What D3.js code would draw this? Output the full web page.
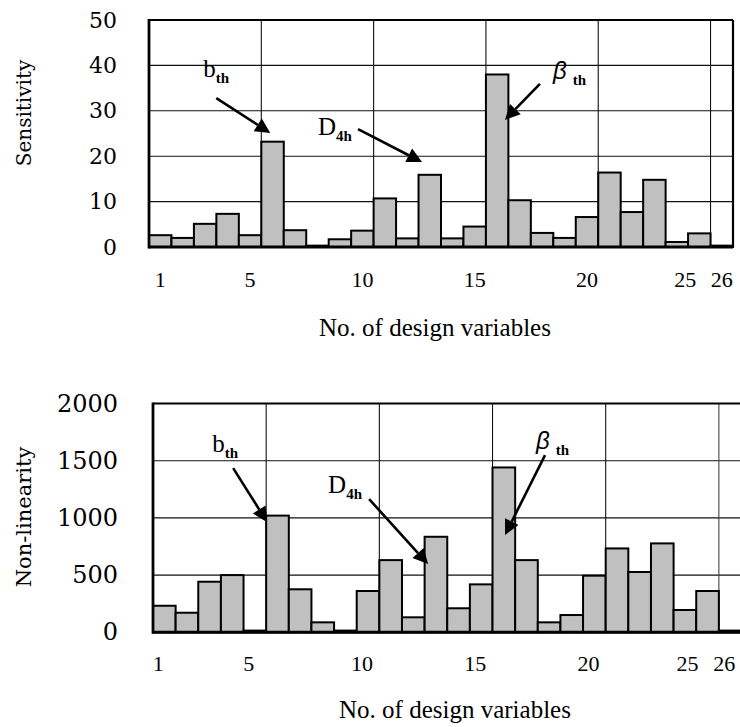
<!DOCTYPE html>
<html>
<head>
<meta charset="utf-8">
<script src="https://cdn.jsdelivr.net/npm/d3@7"></script>
<style>
  body { margin: 0; background: #fff; }
  svg { display: block; }
</style>
</head>
<body>
<svg width="740" height="727"></svg>
<script>
// design variable numbers 1..26
const variables = [1, 2, 3, 4, 5, 6, 7, 8, 9, 10, 11, 12, 13, 14, 15, 16, 17, 18, 19, 20, 21, 22, 23, 24, 25, 26];

const sensitivity = [2.6, 2.0, 5.1, 7.3, 2.6, 23.2, 3.7, 0.3, 1.7, 3.6, 10.7, 1.9, 15.9,
    1.9, 4.5, 38.0, 10.3, 3.1, 2.0, 6.6, 16.4, 7.7, 14.8, 1.1, 3.0, 0.3];

const nonLinearity = [232, 171, 442, 500, 15, 1020, 376, 87, 15, 361, 631, 131, 835,
    210, 419, 1441, 631, 87, 151, 495, 733, 527, 777, 195, 361, 15];

const sensitivityTicks = [0, 10, 20, 30, 40, 50];
const nonLinearityTicks = [0, 500, 1000, 1500, 2000];
const xTickLabels = [1, 5, 10, 15, 20, 25, 26];
const gridAfter = [6, 11, 16, 21, 26]; // vertical grid lines sit at the left edge of these bars

const xTitle = "No. of design variables";

// annotation: tip at (bar, value) + pixel offset, tail relative to tip
const sensNotes = [
    { main: "b", sub: "th", bar: 6, dx: 9, value: 25.1, tail: [-54, -35], label: [-67, -56], greek: false },
    { main: "D", sub: "4h", bar: 13, dx: 3.5, value: 18.7, tail: [-64, -33], label: [-104, -27], greek: false },
    { main: "\u03B2", sub: "th", bar: 16, dx: 19, value: 28, tail: [35, -36], label: [48, -41], greek: true }
];
const nonLinNotes = [
    { main: "b", sub: "th", bar: 6, dx: 1, value: 963, tail: [-34, -54], label: [-55, -70], greek: false },
    { main: "D", sub: "4h", bar: 13, dx: 3.5, value: 596, tail: [-59, -65], label: [-100, -71], greek: false },
    { main: "\u03B2", sub: "th", bar: 16, dx: 12.5, value: 850, tail: [40, -80], label: [31, -86], greek: true }
];

const svg = d3.select("svg");

const drawArrow = (g, x1, y1, x2, y2) => {
    const ang = Math.atan2(y2 - y1, x2 - x1);
    const len = 15, half = 7.5;
    const bx = x2 - len * Math.cos(ang), by = y2 - len * Math.sin(ang);
    g.append("line")
        .attr("x1", x1).attr("y1", y1).attr("x2", bx).attr("y2", by)
        .attr("stroke", "#000").attr("stroke-width", 2.6);
    const px = -Math.sin(ang) * half, py = Math.cos(ang) * half;
    g.append("path")
        .attr("d", `M${x2},${y2}L${bx + px},${by + py}L${bx - px},${by - py}Z`)
        .attr("fill", "#000");
};

const renderPanel = (p) => {
    const x = d3.scaleBand().domain(variables).range([p.left, p.right]).paddingInner(0).paddingOuter(0);
    const y = d3.scaleLinear().domain([0, p.yMax]).range([p.bottom, p.top]);
    const g = svg.append("g");

    // grid
    g.selectAll(".hgrid").data(p.yTicks.filter(t => t > 0 && t < p.yMax)).enter()
        .append("line")
        .attr("x1", p.left).attr("x2", p.right)
        .attr("y1", d => y(d)).attr("y2", d => y(d))
        .attr("stroke", "#111").attr("stroke-width", 1.1);
    g.selectAll(".vgrid").data(gridAfter).enter()
        .append("line")
        .attr("x1", d => x(d)).attr("x2", d => x(d))
        .attr("y1", p.top).attr("y2", p.bottom)
        .attr("stroke", d => d === 26 && p.grayLast ? "#444" : "#111").attr("stroke-width", 1.1);

    // bars
    g.selectAll(".bar").data(p.values).enter()
        .append("rect")
        .attr("x", (d, i) => x(variables[i]))
        .attr("y", d => y(d))
        .attr("width", x.bandwidth())
        .attr("height", d => y(0) - y(d))
        .attr("fill", "#c0c0c0")
        .attr("stroke", "#000")
        .attr("stroke-width", 2);

    // frame
    g.append("line").attr("x1", p.left).attr("x2", p.right).attr("y1", p.top).attr("y2", p.top)
        .attr("stroke", "#000").attr("stroke-width", 2.2);
    g.append("line").attr("x1", p.right).attr("x2", p.right).attr("y1", p.top).attr("y2", p.bottom)
        .attr("stroke", "#000").attr("stroke-width", 2.2);
    g.append("line").attr("x1", p.left).attr("x2", p.left).attr("y1", p.top - 1).attr("y2", p.bottom + 1.5)
        .attr("stroke", "#000").attr("stroke-width", 2.8);
    g.append("line").attr("x1", p.left).attr("x2", p.right).attr("y1", p.bottom).attr("y2", p.bottom)
        .attr("stroke", "#000").attr("stroke-width", 3);

    // y axis labels
    const yAxis = svg.append("g")
        .attr("transform", `translate(${p.left},0)`)
        .call(d3.axisLeft(y).tickValues(p.yTicks).tickSize(0).tickPadding(p.left - p.yLabelRight).tickFormat(d3.format("d")));
    yAxis.select(".domain").remove();
    yAxis.selectAll("text")
        .attr("font-family", "'DejaVu Serif', serif")
        .attr("font-size", p.yFont)
        .attr("fill", "#000");

    // x axis labels
    const xAxis = svg.append("g")
        .attr("transform", `translate(0,${p.bottom})`)
        .call(d3.axisBottom(x).tickValues(xTickLabels).tickSize(0).tickPadding(p.xPad));
    xAxis.select(".domain").remove();
    xAxis.selectAll("text")
        .attr("font-family", "'Liberation Serif', 'Times New Roman', serif")
        .attr("font-size", 22)
        .attr("fill", "#000")
        .attr("dx", d => p.labelShift + (d === 25 ? -14 : 0));

    svg.append("text")
        .attr("x", p.titleX).attr("y", p.titleY)
        .attr("text-anchor", "middle")
        .attr("font-family", "'Liberation Serif', 'Times New Roman', serif")
        .attr("font-size", 25)
        .text(xTitle);

    svg.append("text")
        .attr("transform", `translate(${p.yTitleX},${p.yTitleY}) rotate(-90)`)
        .attr("text-anchor", "middle")
        .attr("font-family", "'DejaVu Serif', serif")
        .attr("font-size", p.yTitleFont)
        .text(p.yTitle);

    // annotations
    const ann = svg.append("g");
    p.notes.forEach(n => {
        const tx = x(n.bar) + n.dx, ty = y(n.value);
        drawArrow(ann, tx + n.tail[0], ty + n.tail[1], tx, ty);
        const t = ann.append("text")
            .attr("x", tx + n.label[0]).attr("y", ty + n.label[1]);
        if (n.greek) {
            t.append("tspan")
                .attr("font-family", "'Liberation Sans', Arial, sans-serif")
                .attr("font-style", "italic")
                .attr("font-size", 24)
                .text(n.main);
            t.append("tspan")
                .attr("dx", 6).attr("dy", 6)
                .attr("font-family", "'Liberation Serif', serif")
                .attr("font-weight", "bold")
                .attr("font-size", 15)
                .text(n.sub);
        } else {
            t.append("tspan")
                .attr("font-family", "'Liberation Serif', serif")
                .attr("font-size", 25)
                .text(n.main);
            t.append("tspan")
                .attr("dy", 6)
                .attr("font-family", "'Liberation Serif', serif")
                .attr("font-weight", "bold")
                .attr("font-size", 15)
                .text(n.sub);
        }
    });
};

renderPanel({
    values: sensitivity, yTicks: sensitivityTicks, yMax: 50,
    left: 149, right: 733, top: 20, bottom: 247,
    yLabelRight: 117, yFont: 22, xPad: 24, labelShift: 0,
    titleX: 435, titleY: 336,
    yTitle: "Sensitivity", yTitleX: 31, yTitleY: 113, yTitleFont: 20,
    notes: sensNotes, grayLast: false
});

renderPanel({
    values: nonLinearity, yTicks: nonLinearityTicks, yMax: 2000,
    left: 153, right: 741.5, top: 403.5, bottom: 632.3,
    yLabelRight: 118, yFont: 24, xPad: 23, labelShift: -6,
    titleX: 455, titleY: 718,
    yTitle: "Non-linearity", yTitleX: 31, yTitleY: 517, yTitleFont: 21,
    notes: nonLinNotes, grayLast: true
});
</script>
</body>
</html>
